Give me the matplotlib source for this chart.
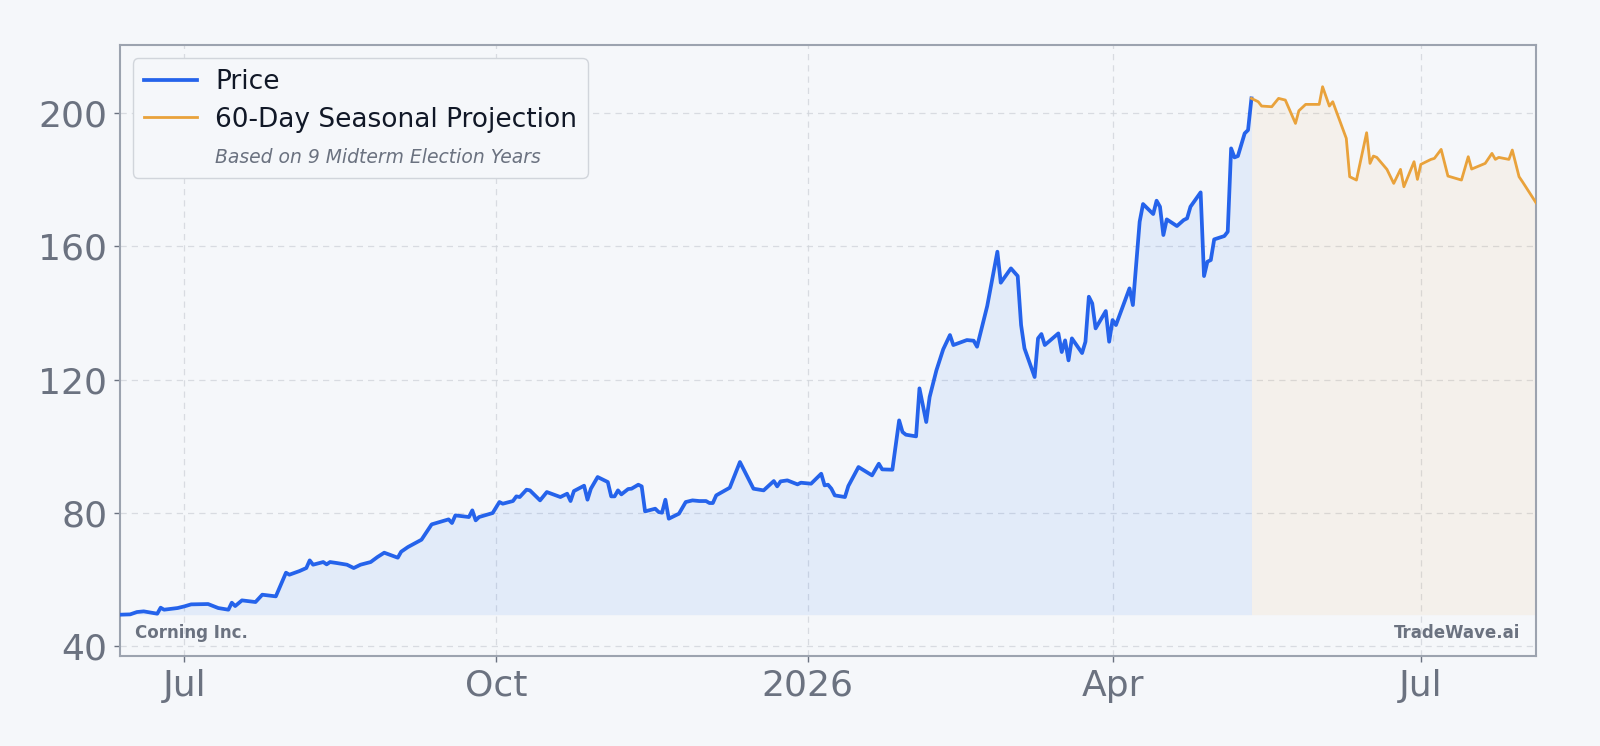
import numpy as np
import pandas as pd
import matplotlib
matplotlib.use("Agg")
import matplotlib.pyplot as plt
import matplotlib.dates as mdates
from matplotlib.lines import Line2D

# datos (dias desde el inicio, precio)
start = pd.Timestamp("2025-06-12")

price_days = [0, 3, 5, 7, 11, 12, 13, 17, 19, 21, 26, 29, 32, 33, 34, 36, 40, 42, 46, 49,
              50, 53, 55, 56, 57, 60, 61, 62, 64, 67, 69, 71, 74, 76, 78, 82, 83, 85, 89, 92,
              96, 97, 98, 99, 103, 104, 105, 106, 110, 112, 113, 116, 117, 118, 120, 121, 124, 126, 130, 132,
              133, 134, 137, 138, 139, 141, 144, 145, 146, 147, 148, 150, 151, 153, 154, 155, 158, 159, 160, 161,
              162, 165, 167, 169, 171, 173, 174, 175, 176, 180, 183, 187, 190, 193, 194, 195, 197, 200, 201, 204,
              207, 208, 209, 210, 211, 214, 215, 218, 222, 224, 225, 228, 230, 231, 232, 235, 236, 238, 239, 241,
              243, 245, 246, 250, 252, 253, 256, 259, 260, 263, 265, 266, 267, 270, 271, 272, 273, 277, 278, 279,
              280, 281, 284, 285, 286, 287, 288, 291, 292, 293, 294, 298, 299, 301, 302, 305, 306, 307, 308, 309,
              312, 314, 315, 316, 319, 320, 321, 322, 323, 326, 327, 328, 329, 330, 332, 333, 334]
price = [49.5, 49.6, 50.3, 50.5, 49.8, 51.6, 51.0, 51.5, 52.0, 52.6, 52.7, 51.5, 51.0, 53.1, 52.1, 53.8, 53.3, 55.5, 55.0, 62.1,
         61.5, 62.6, 63.5, 65.8, 64.5, 65.3, 64.6, 65.3, 65.0, 64.5, 63.5, 64.5, 65.3, 66.8, 68.1, 66.6, 68.4, 69.8, 72.0, 76.6,
         77.8, 78.1, 77.0, 79.3, 78.8, 80.8, 77.8, 78.8, 80.0, 83.3, 82.8, 83.6, 85.0, 84.8, 87.0, 86.8, 83.8, 86.3, 84.8, 85.8,
         83.6, 86.6, 88.2, 84.0, 87.3, 90.8, 89.3, 85.0, 85.0, 86.8, 85.6, 87.2, 87.3, 88.5, 88.0, 80.5, 81.3, 80.3, 80.1, 84.0,
         78.3, 79.8, 83.3, 83.8, 83.6, 83.6, 83.0, 83.0, 85.3, 87.6, 95.3, 87.3, 86.8, 89.6, 88.0, 89.5, 89.8, 88.6, 89.1, 88.8,
         91.8, 88.3, 88.5, 87.3, 85.3, 84.8, 88.1, 93.8, 91.3, 94.8, 93.1, 93.0, 107.8, 104.3, 103.5, 103.0, 117.4, 107.3, 114.8, 122.8,
         129.1, 133.4, 130.4, 131.9, 131.7, 129.9, 142.1, 158.4, 149.1, 153.4, 151.1, 136.4, 129.4, 120.8, 132.4, 133.7, 130.4, 133.9, 128.3, 131.8,
         125.8, 132.4, 128.0, 131.4, 144.9, 142.9, 135.4, 140.6, 131.4, 137.9, 136.4, 147.4, 142.4, 167.4, 172.7, 169.7, 173.7, 171.9, 163.4, 168.1,
         166.1, 167.9, 168.4, 171.9, 176.2, 151.1, 155.4, 155.9, 162.1, 163.1, 164.4, 189.4, 186.7, 187.1, 193.9, 194.9, 204.4]

proj_days = [334, 336, 337, 340, 342, 344, 347, 348, 350, 354, 355, 357, 358, 362, 363, 365, 368, 369, 370, 371,
             374, 376, 378, 379, 382, 383, 384, 387, 388, 390, 392, 396, 398, 399, 403, 405, 406, 407, 410, 411,
             413, 414, 418]
proj = [204.4, 203.4, 202.1, 201.9, 204.4, 203.9, 196.9, 200.7, 202.6, 202.6, 207.9, 202.1, 203.4, 192.4, 180.9, 179.9, 194.1, 184.9, 187.1, 186.7,
        183.1, 178.9, 183.1, 177.9, 185.4, 180.1, 184.6, 186.1, 186.4, 189.1, 181.1, 179.9, 186.9, 183.2, 184.9, 187.9, 186.1, 186.7, 186.1, 188.9,
        180.9, 179.4, 173.1]

yticks = [40, 80, 120, 160, 200]

price_dates = start + pd.to_timedelta(price_days, unit="D")
proj_dates = start + pd.to_timedelta(proj_days, unit="D")

bg = "#f5f7fa"
blue = "#2563eb"
orange = "#e9a23b"
grey = "#6b7280"

fig = plt.figure(figsize=(16, 7.46), dpi=100, facecolor=bg)
ax = fig.add_axes([0.075, 0.1206, 0.885, 0.819])
ax.set_facecolor(bg)

base = min(price)
ax.fill_between(price_dates, price, base, color="#3b82f6", alpha=0.1, lw=0)
ax.fill_between(proj_dates, proj, base, color=orange, alpha=0.08, lw=0)
ax.plot(price_dates, price, color=blue, lw=2.7, zorder=3)
ax.plot(proj_dates, proj, color=orange, lw=2.0, zorder=3)

ax.set_xlim(price_dates[0], proj_dates[-1])
ax.set_ylim(37.1, 220.4)
ax.set_yticks(yticks)

ax.xaxis.set_major_locator(mdates.MonthLocator(bymonth=[1, 4, 7, 10]))
ax.xaxis.set_major_formatter(plt.FuncFormatter(
    lambda x, pos: mdates.num2date(x).strftime("%Y" if mdates.num2date(x).month == 1 else "%b")))

ax.grid(True, color="#d1d5db", ls=(0, (5, 4)), lw=0.9, alpha=0.8)
ax.set_axisbelow(True)
for s in ax.spines.values():
    s.set_color("#9ca3af")
    s.set_linewidth(1.5)
ax.tick_params(labelsize=26, colors=grey, length=4, width=1, pad=5)

leg_handles = [Line2D([], [], color=blue, lw=2.7),
               Line2D([], [], color=orange, lw=2.0),
               Line2D([], [], color="none")]
leg = ax.legend(leg_handles, ["Price", "60-Day Seasonal Projection", "Based on 9 Midterm Election Years"],
                loc="upper left", fontsize=19, frameon=True, facecolor=bg, edgecolor="#d1d5db",
                framealpha=1, fancybox=True, handletextpad=0.7, labelspacing=0.45)
for t in leg.get_texts()[:2]:
    t.set_color("#111827")
note = leg.get_texts()[2]
note.set_fontsize(13.5)
note.set_style("italic")
note.set_color(grey)

ax.text(0.0106, 0.038, "Corning Inc.", transform=ax.transAxes, fontsize=12,
        fontweight="bold", color=grey, va="center", ha="left")
ax.text(0.989, 0.038, "TradeWave.ai", transform=ax.transAxes, fontsize=12,
        fontweight="bold", color=grey, va="center", ha="right")

fig.savefig("out.png", dpi=100, facecolor=bg)
